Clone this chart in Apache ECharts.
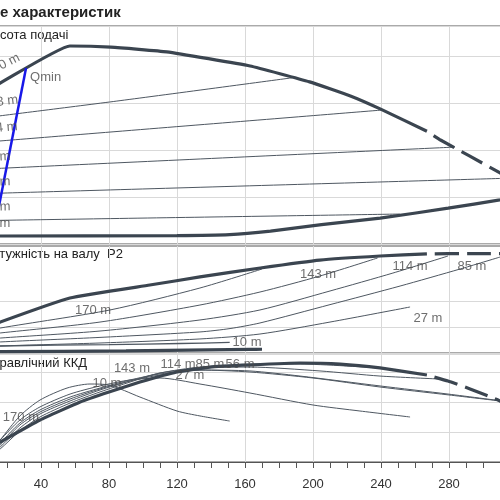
<!DOCTYPE html>
<html>
<head>
<meta charset="utf-8">
<script src="https://cdn.jsdelivr.net/npm/echarts@6/dist/echarts.min.js"></script>
<style>
html, body { margin: 0; padding: 0; background: #fff; }
#container { width: 500px; height: 500px; }
</style>
</head>
<body>
<div id="container"></div>
<script>
// flow Q on x (0..320), head in m, power P2, hydraulic efficiency
var headMax     = [[10,133],[16,137],[57,168.5],[81,167.5],[114,163.5],[163,151.5],[198,138],[222,126],[239.5,115],[267,96]];
var headMaxDash = [[267,96],[275,88.5],[292,75],[310,60.5],[319,53.5]];
var headMin     = [[10,6.8],[120,7.2],[151,8],[175,11],[205,16.5],[239.5,22],[279.5,30.5],[310,37.5],[319,40]];
var head143 = [[10,108],[86.5,122],[188,141.5]];
var head114 = [[10,87],[240.5,114]];
var head85  = [[10,64],[283.5,82.5]];
var head56  = [[10,43],[315,56]];
var head27  = [[10,20],[251,25.5]];
var qmin    = [[11.8,6.8],[31.2,149.8]];

var powerMax     = [[10,20],[16,23.8],[57,42.3],[104,52.3],[133.5,58.5],[169,65.4],[204,71.5],[239.5,74.6],[267,76.2]];
var powerMaxDash = [[267,76.2],[292,76.5],[319,76.5]];
var power170 = [[10,16.9],[16,19.2],[80.6,33.1],[133.5,50],[170,64.6]];
var power143 = [[10,14.6],[16,15.4],[74.7,23.8],[133.5,36.9],[168.8,46.9],[204,59.2],[238,73.1]];
var power114 = [[10,10.8],[16,11.5],[74.7,16.9],[133.5,25.4],[168.8,33.1],[210,47.7],[247,61.5],[279.4,74.6]];
var power85  = [[10,7.7],[16,8.5],[74.7,12],[133.5,16.2],[151.2,18.8],[168.8,23.1],[210,37.2],[251.2,51.5],[286.5,64.6],[310,73.8]];
var power27  = [[10,4.6],[16,5.4],[74.7,7.7],[133.5,10.8],[168.8,14.6],[210,23.8],[257.1,35.4]];
var power10  = [[10,4.6],[16,5.4],[80,6.5],[122,7.3],[151,8.1]];
var powerMin = [[10,0.8],[16,1.0],[90,1.6],[163,2.8],[170,2.9]];

var effMax     = [[10,9.3],[16,13.3],[39.4,28],[63,40],[80,46.7],[98.2,53.3],[120,60],[139.4,63.3],[163,64.7],[192.4,66],[216,65.3],[239.4,62.7],[267,58]];
var effMaxDash = [[267,58],[279.4,54],[292.4,48.7],[310,40.7],[319,34.7]];
var eff10  = [[10,6],[16,14.7],[27.6,30.7],[39.4,41.3],[55.3,49.3],[68.8,52],[80,51.3],[98.2,43.3],[120,34],[133.5,30.7],[151,27.3]];
var eff27  = [[10,8],[16,14.7],[27.6,28],[39.4,36.7],[57.1,45.3],[74.7,50.7],[92.4,54.7],[110,56],[133.5,52],[162.9,46],[200,38],[227.6,34],[257.1,30]];
var eff56  = [[10,6.7],[16,12.7],[27.6,26],[39.4,34.7],[57.1,43.3],[74.7,49.3],[92.4,54.7],[110,58.7],[133.5,61.3],[162.9,60.7],[192.4,57.3],[239.4,50.7],[279.4,45.3],[315.9,40]];
var eff85  = [[10,6],[16,11.3],[27.6,24.7],[39.4,33.3],[57.1,42],[74.7,48.7],[92.4,54],[110,58],[133.5,61.3],[162.9,60],[200,56],[239.4,50],[279.9,44.7],[310,40.7]];
var eff114 = [[10,5.3],[16,10],[27.6,22.7],[39.4,32],[57.1,40.7],[74.7,48],[92.4,54],[110,59.3],[133.5,62.7],[162.9,63.3],[204.1,60.7],[239.4,57.3],[274.7,55.3]];
var eff143 = [[10,4],[16,8.7],[27.6,20.7],[39.4,30],[57.1,39.3],[74.7,46.7],[92.4,53.3],[110,59.3],[133.5,63.3],[162.9,64.7],[192.4,65.3],[238.2,62.7]];

var headLabelNames  = ['170 m','143 m','114 m','85 m','56 m','27 m','10 m'];
var headLabelPos    = [[17.6,152.3],[15.9,120.9],[15.9,98.7],[13.5,74],[13.5,52.8],[13.5,31.5],[13.5,17.9]];
var powerLabelNames = ['170 m','143 m','114 m','85 m','27 m','10 m'];
var powerLabelPos   = [[70.6,33.1],[203,60.8],[257.1,66.9],[293.5,66.9],[267.6,26.9],[161.2,8.5]];
var effLabelNames   = ['170 m','143 m','114 m','85 m','56 m','27 m','10 m'];
var effLabelPos     = [[28.2,30],[93.5,62.7],[120.6,65.3],[139.4,65.3],[157.1,65.3],[127.6,58],[78.8,52.7]];

var dom = document.getElementById('container');
var myChart = echarts.init(dom, null, {renderer: 'canvas'});

var thick = '#3b4550', thin = '#4e5761', gridCol = '#d9d9d9', font = '"Liberation Sans", Arial, sans-serif';

function curve(data, g, w, dashed) {
    return {
        type: 'line', xAxisIndex: g, yAxisIndex: g, data: data,
        symbol: 'none', showSymbol: false, smooth: w > 2 ? 0.12 : 0.25,
        silent: true, z: w > 2 ? 4 : 3,
        lineStyle: {color: w > 2 ? thick : thin, width: w,
            type: dashed ? [24, 8] : 'solid', dashOffset: dashed ? 24 : 0}
    };
}
function labels(names, pos, g, rots) {
    return {
        type: 'scatter', xAxisIndex: g, yAxisIndex: g, symbolSize: 0, silent: true, z: 6,
        data: names.map(function (n, i) {
            return {name: n, value: pos[i], label: {rotate: rots ? rots[i] : 0}};
        }),
        label: {show: true, position: 'inside', formatter: '{b}', color: '#4a4a4a', fontSize: 13, fontFamily: font}
    };
}

var grids = [
    {left: -27, right: -17, top: 26, height: 218},
    {left: -27, right: -17, top: 246, height: 107},
    {left: -27, right: -17, top: 354, height: 108},
    {left: -27, right: -17, top: 301, height: 52}
];
grids.forEach(function (g, i) {
    g.outerBoundsMode = 'none';
    g.containLabel = false;
    g.show = i < 3;
    g.borderColor = '#555';
    g.borderWidth = 1;
    g.backgroundColor = 'transparent';
});

var xAxes = [0, 1, 2, 3].map(function (i) {
    var bottom = i === 2;
    return {
        type: 'value', gridIndex: i, min: 0, max: 320, interval: 40, show: i < 3,
        axisLine: {show: bottom, lineStyle: {color: '#555', width: 1}},
        axisTick: {show: bottom, length: 6, lineStyle: {color: '#555'}},
        minorTick: {show: bottom, splitNumber: 4, length: 6, lineStyle: {color: '#555'}},
        axisLabel: {show: bottom, color: '#333', fontSize: 13, fontFamily: font, margin: 16},
        splitLine: {show: true, lineStyle: {color: gridCol, width: 1}},
        minorSplitLine: {show: false}
    };
});
var yMax = [218 / 47 * 40, 107 / 26 * 20, 72, 40];
var yStep = [40, 20, 20, 20];
var yAxes = [0, 1, 2, 3].map(function (i) {
    return {
        type: 'value', gridIndex: i, min: 0, max: yMax[i], interval: yStep[i],
        axisLine: {show: false}, axisTick: {show: false}, axisLabel: {show: false},
        splitLine: {show: i !== 1, lineStyle: {color: gridCol, width: 1}}
    };
});

var series = [
    curve(head143, 0, 1), curve(head114, 0, 1), curve(head85, 0, 1),
    curve(head56, 0, 1), curve(head27, 0, 1),
    curve(headMax, 0, 3.2), curve(headMaxDash, 0, 3.2, true), curve(headMin, 0, 3.2),
    {type: 'line', xAxisIndex: 0, yAxisIndex: 0, data: qmin, symbol: 'none', silent: true, z: 5,
        lineStyle: {color: '#1818e8', width: 2.5}},
    labels(headLabelNames, headLabelPos, 0, [27, 7, 5, 3, 2, 1, 0]),
    labels(['Qmin'], [[42.7, 142.1]], 0),

    curve(power170, 1, 1), curve(power143, 1, 1), curve(power114, 1, 1),
    curve(power85, 1, 1), curve(power27, 1, 1), curve(power10, 1, 1.3),
    curve(powerMax, 1, 3.2), curve(powerMaxDash, 1, 3.2, true), curve(powerMin, 1, 3.2),
    labels(powerLabelNames, powerLabelPos, 1),

    curve(eff10, 2, 1), curve(eff27, 2, 1), curve(eff56, 2, 1),
    curve(eff85, 2, 1), curve(eff114, 2, 1), curve(eff143, 2, 1),
    curve(effMax, 2, 3.2), curve(effMaxDash, 2, 3.2, true),
    labels(effLabelNames, effLabelPos, 2)
];

var option = {
    animation: false,
    backgroundColor: '#fff',
    grid: grids,
    xAxis: xAxes,
    yAxis: yAxes,
    graphic: [
        {type: 'text', x: 0, y: 13, style: {text: 'е характеристик', font: 'bold 15px ' + font, fill: '#222', verticalAlign: 'middle', textVerticalAlign: 'middle'}},
        {type: 'text', x: -16, y: 35, style: {text: 'Висота подачі', font: '13px ' + font, fill: '#222', verticalAlign: 'middle', textVerticalAlign: 'middle'}},
        {type: 'text', x: -17, y: 254, style: {text: 'Потужність на валу  P2', font: '13px ' + font, fill: '#222', verticalAlign: 'middle', textVerticalAlign: 'middle'}},
        {type: 'text', x: -18, y: 363, style: {text: 'Гідравлічний ККД', font: '13px ' + font, fill: '#222', verticalAlign: 'middle', textVerticalAlign: 'middle'}}
    ],
    series: series
};
myChart.setOption(option, true);
</script>
</body>
</html>
